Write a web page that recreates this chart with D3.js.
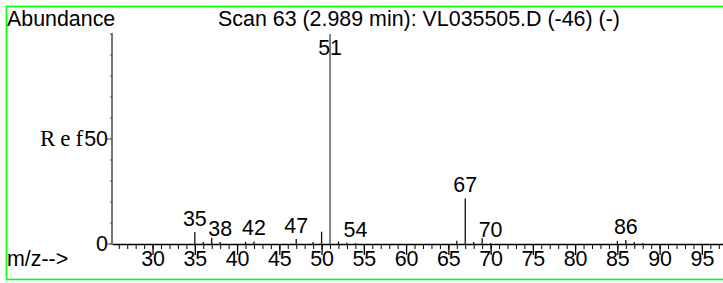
<!DOCTYPE html>
<html>
<head>
<meta charset="utf-8">
<script src="https://cdn.jsdelivr.net/npm/d3@7"></script>
<style>
  body { margin: 0; background: #fff; }
  text { font-family: Arial, "Liberation Sans", sans-serif; fill: #000; }
</style>
</head>
<body>
<svg class="display"></svg>
<script>
// spectrum peaks: m/z and relative abundance (%)
const mz =        [35,  36,  37,  38,  41,  42,  47,  49,  50,  51,  52,  53,  54,  66,  67,   68,  69,  70,  85,  86,  87,  88];
const abundance = [5.7, 1.0, 2.9, 1.0, 1.0, 1.2, 2.4, 1.0, 5.9, 100, 1.2, 0.6, 0.4, 1.5, 21.7, 1.0, 2.9, 0.4, 1.5, 1.9, 1.0, 0.5];
const labelled =  [35, 38, 42, 47, 51, 54, 67, 70, 86];

const xMajor = [30, 35, 40, 45, 50, 55, 60, 65, 70, 75, 80, 85, 90, 95];
const xMinor = d3.range(26, 98);
const yMajor = [0, 50];
const yMinor = d3.range(0, 101, 10);

const title = 'Scan 63 (2.989 min): VL035505.D (-46) (-)';

const width = 723;
const height = 283;
const fs = 21.4;

const svg = d3.select('.display')
  .attr('width', width)
  .attr('height', height);

// green frame
svg.append('rect')
  .attr('x', 6.5).attr('y', 6.5)
  .attr('width', 730).attr('height', 273)
  .attr('fill', 'none')
  .attr('stroke', '#00ff00')
  .attr('stroke-width', 1.6);

const x = d3.scaleLinear().domain([25.2, 97.5]).range([112, 723]);
const y = d3.scaleLinear().domain([0, 100]).range([244, 34]);

// x axis: minor ticks, then major ticks with labels
svg.append('g')
  .attr('transform', 'translate(0,' + y(0) + ')')
  .call(d3.axisBottom(x).tickValues(xMinor).tickSize(5).tickSizeOuter(0).tickFormat(''))
  .call(g => g.select('.domain').attr('stroke', '#000').attr('stroke-width', 1.5))
  .call(g => g.selectAll('.tick line').attr('stroke', '#000'));

svg.append('g')
  .attr('transform', 'translate(0,' + y(0) + ')')
  .call(d3.axisBottom(x).tickValues(xMajor).tickSize(11).tickSizeOuter(0))
  .call(g => g.select('.domain').remove())
  .call(g => g.selectAll('.tick line').attr('stroke', '#000').attr('stroke-width', 1.3))
  .call(g => g.selectAll('.tick text')
    .attr('y', 22).attr('dy', 0)
    .attr('font-family', 'Arial, "Liberation Sans", sans-serif')
    .attr('font-size', fs).attr('fill', '#000'));

// y axis
svg.append('line')
  .attr('x1', x.range()[0]).attr('x2', x.range()[0])
  .attr('y1', y(0)).attr('y2', y(100) - 1)
  .attr('stroke', '#555').attr('stroke-width', 1.6);

svg.selectAll('.ytick-minor')
  .data(yMinor)
  .enter().append('line')
    .attr('class', 'ytick-minor')
    .attr('x1', 110).attr('x2', 112)
    .attr('y1', d => y(d)).attr('y2', d => y(d))
    .attr('stroke', '#555');

svg.selectAll('.ytick-major')
  .data(yMajor)
  .enter().append('line')
    .attr('class', 'ytick-major')
    .attr('x1', 107).attr('x2', 112)
    .attr('y1', d => y(d)).attr('y2', d => y(d))
    .attr('stroke', '#555');

const ylab = svg.selectAll('.ylab')
  .data(yMajor)
  .enter().append('text')
    .attr('class', 'ylab')
    .attr('x', 108)
    .attr('y', d => y(d) + 7)
    .attr('text-anchor', 'end')
    .attr('font-size', fs);

// "Ref" in a typewriter-like serif, spread out per letter
ylab.filter(d => d === 50).append('tspan')
  .attr('font-family', '"Liberation Serif", "Times New Roman", serif')
  .attr('font-size', 23)
  .attr('dx', '0 5 5')
  .text('Ref');
ylab.append('tspan')
  .attr('dx', d => d === 50 ? 1 : 0)
  .text(d => d);

// peaks
const peaks = mz.map((m, i) => ({ mz: m, ab: abundance[i] }));

svg.selectAll('.peak')
  .data(peaks)
  .enter().append('line')
    .attr('class', 'peak')
    .attr('x1', d => x(d.mz)).attr('x2', d => x(d.mz))
    .attr('y1', y(0)).attr('y2', d => y(d.ab))
    .attr('stroke', d => d.ab > 50 ? '#444' : '#111')
    .attr('stroke-width', 1.3);

svg.selectAll('.plab')
  .data(peaks.filter(d => labelled.includes(d.mz)))
  .enter().append('text')
    .attr('class', 'plab')
    .attr('x', d => x(d.mz))
    .attr('y', d => Math.max(y(d.ab) - 6, 55))
    .attr('text-anchor', 'middle')
    .attr('font-size', fs)
    .text(d => d.mz);

// headers
svg.append('text')
  .attr('x', 7).attr('y', 26)
  .attr('font-size', fs)
  .text('Abundance');

svg.append('text')
  .attr('x', 419).attr('y', 26)
  .attr('text-anchor', 'middle')
  .attr('font-size', fs)
  .text(title);

svg.append('text')
  .attr('x', 7).attr('y', 266)
  .attr('font-size', fs)
  .text('m/z-->');
</script>
</body>
</html>
